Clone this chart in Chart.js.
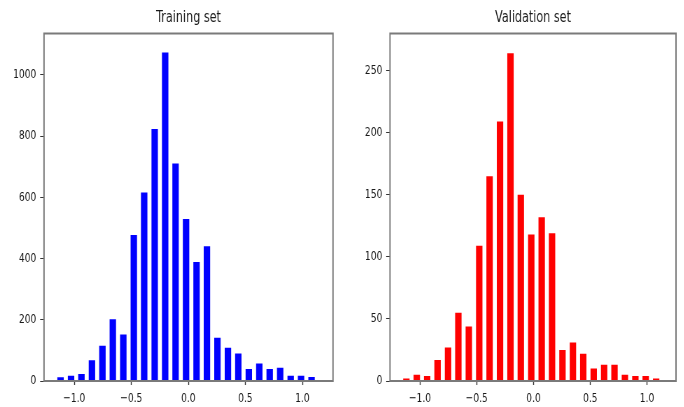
<!DOCTYPE html>
<html>
<head>
<meta charset="utf-8">
<script src="https://cdn.jsdelivr.net/npm/chart.js@4.4.1/dist/chart.umd.min.js"></script>
<style>
  html, body { margin: 0; padding: 0; background: #ffffff; }
  body { width: 684px; height: 407px; overflow: hidden; position: relative; }
  .panel { position: absolute; top: 0; transform-origin: 0 0; }
</style>
</head>
<body>
<div class="panel" id="p1" style="left:0px"><canvas id="c1" width="486" height="407"></canvas></div>
<div class="panel" id="p2" style="left:340px"><canvas id="c2" width="491" height="407"></canvas></div>
<script>
// ---- data ----
const binCenters = [-1.120, -1.028, -0.937, -0.845, -0.753, -0.662, -0.570, -0.478, -0.387, -0.295,
                    -0.203, -0.112, -0.020, 0.072, 0.163, 0.255, 0.347, 0.438, 0.530, 0.622,
                    0.713, 0.805, 0.897, 0.988, 1.080];
const trainCounts = [12, 17, 23, 68, 115, 202, 152, 477, 616, 823,
                     1073, 710, 529, 389, 440, 141, 109, 90, 39, 57,
                     39, 43, 17, 17, 13];
const valCounts = [2, 5, 4, 17, 27, 55, 44, 109, 165, 209,
                   264, 150, 118, 132, 119, 25, 31, 22, 10, 13,
                   13, 5, 4, 4, 2];
const xTicks = [-1.0, -0.5, 0.0, 0.5, 1.0];
const trainYTicks = [0, 200, 400, 600, 800, 1000];
const valYTicks = [0, 50, 100, 150, 200, 250];
const titles = ['Training set', 'Validation set'];

// ---- styling / layout ----
const SQ = 0.7; // horizontal compression of the reference image
document.getElementById('p1').style.transform = 'scaleX(' + SQ + ')';
document.getElementById('p2').style.transform = 'scaleX(' + SQ + ')';

const FONT = "'DejaVu Sans', 'Liberation Sans', sans-serif";
const frame = {
  id: 'frame',
  afterDatasetsDraw(chart) {
    const a = chart.chartArea, ctx = chart.ctx;
    ctx.save();
    ctx.strokeStyle = '#7a7a7a';
    ctx.lineWidth = 2;
    ctx.strokeRect(a.left, a.top, a.right - a.left, a.bottom - a.top);
    ctx.restore();
  }
};

function makeChart(id, title, counts, color, yMax, yTicks, yWidth, padRight, xMin, xMax) {
  const pts = binCenters.map((x, i) => ({ x: x, y: counts[i] }));
  return new Chart(document.getElementById(id), {
    type: 'bar',
    data: { datasets: [{ data: pts, backgroundColor: color, borderWidth: 0,
                         barPercentage: 0.62, categoryPercentage: 1.0 }] },
    options: {
      responsive: false,
      animation: false,
      devicePixelRatio: 1,
      layout: { padding: { left: 0, right: padRight, top: 0, bottom: 0 } },
      plugins: {
        legend: { display: false },
        tooltip: { enabled: false },
        title: { display: true, text: title, fullSize: false, color: '#1a1a1a',
                 font: { family: FONT, size: 16, weight: 'normal' },
                 padding: { top: 8.7, bottom: 5.6 } }
      },
      scales: {
        x: {
          type: 'linear', min: xMin, max: xMax, offset: false,
          afterBuildTicks: s => { s.ticks = xTicks.map(v => ({ value: v })); },
          afterFit: s => { s.height = 26; },
          grid: { drawOnChartArea: false, drawTicks: true, tickLength: 4, tickColor: '#333', tickWidth: 1.4, offset: false },
          border: { display: false },
          ticks: { color: '#1a1a1a', padding: 6, maxRotation: 0, autoSkip: false,
                   font: { family: FONT, size: 13 },
                   callback: v => (v < 0 ? '\u2212' : '') + Math.abs(v).toFixed(1) }
        },
        y: {
          min: 0, max: yMax,
          afterBuildTicks: s => { s.ticks = yTicks.map(v => ({ value: v })); },
          afterFit: s => { s.width = yWidth; },
          grid: { drawOnChartArea: false, drawTicks: true, tickLength: 5.5, tickColor: '#333', tickWidth: 1 },
          border: { display: false },
          ticks: { color: '#1a1a1a', padding: 5.5, autoSkip: false,
                   font: { family: FONT, size: 13 },
                   callback: v => String(v) }
        }
      }
    },
    plugins: [frame]
  });
}

makeChart('c1', titles[0], trainCounts, '#0000ff', 1135, trainYTicks, 44 / SQ, 486 - 333 / SQ, -1.265, 1.268);
makeChart('c2', titles[1], valCounts, '#ff0000', 280, valYTicks, 50 / SQ, 491 - 336 / SQ, -1.264, 1.255);
</script>
</body>
</html>
